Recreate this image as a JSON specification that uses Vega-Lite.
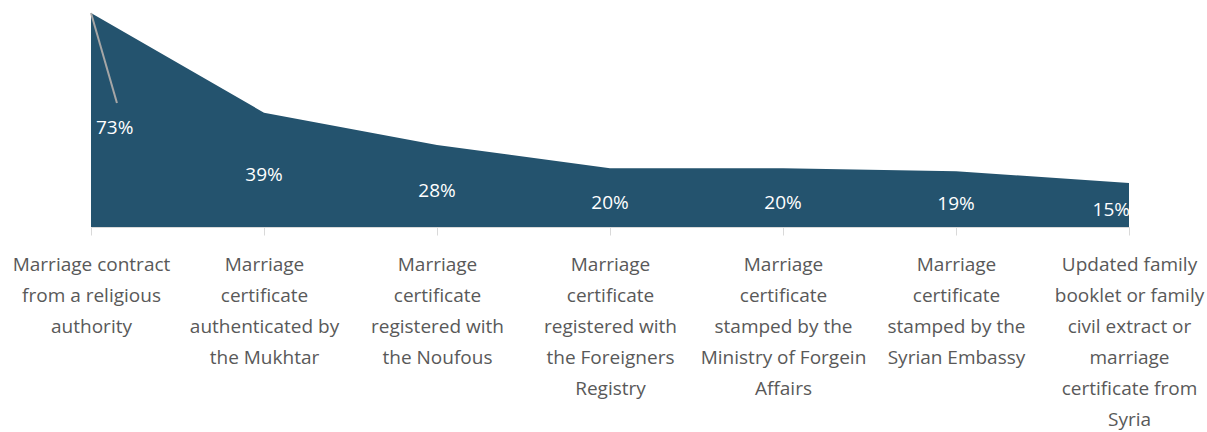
{
  "$schema": "https://vega.github.io/schema/vega-lite/v6.json",
  "width": 1038,
  "height": 214,
  "autosize": {"type": "none"},
  "padding": {"left": 91, "top": 13, "right": 78, "bottom": 205},
  "background": "white",
  "config": {"view": {"stroke": null}, "font": "Open Sans"},
  "datasets": {
    "main": [
      {"i": 0, "v": 73, "label": "Marriage contract|from a religious|authority"},
      {"i": 1, "v": 39, "label": "Marriage|certificate|authenticated by|the Mukhtar"},
      {"i": 2, "v": 28, "label": "Marriage|certificate|registered with|the Noufous"},
      {"i": 3, "v": 20, "label": "Marriage|certificate|registered with|the Foreigners|Registry"},
      {"i": 4, "v": 20, "label": "Marriage|certificate|stamped by the|Ministry of Forgein|Affairs"},
      {"i": 5, "v": 19, "label": "Marriage|certificate|stamped by the|Syrian Embassy"},
      {"i": 6, "v": 15, "label": "Updated family|booklet or family|civil extract or|marriage|certificate from|Syria"}
    ],
    "leader": [{"x": 0, "y": 73, "x2": 0.15, "y2": 42.3}]
  },
  "layer": [
    {
      "data": {"name": "main"},
      "mark": {"type": "area", "color": "#24536e", "interpolate": "linear"},
      "encoding": {
        "x": {
          "field": "i", "type": "quantitative",
          "scale": {"domain": [0, 6], "nice": false, "zero": false},
          "axis": {
            "title": null,
            "values": [0, 1, 2, 3, 4, 5, 6],
            "grid": false,
            "domainColor": "#d9d9d9",
            "tickColor": "#d9d9d9",
            "tickSize": 8,
            "labelExpr": "split(['Marriage contract|from a religious|authority','Marriage|certificate|authenticated by|the Mukhtar','Marriage|certificate|registered with|the Noufous','Marriage|certificate|registered with|the Foreigners|Registry','Marriage|certificate|stamped by the|Ministry of Forgein|Affairs','Marriage|certificate|stamped by the|Syrian Embassy','Updated family|booklet or family|civil extract or|marriage|certificate from|Syria'][datum.value], '|')",
            "labelFontSize": 19,
            "labelColor": "#595959",
            "labelLineHeight": 31,
            "labelPadding": 20,
            "labelLimit": 0,
            "labelOverlap": false,
            "labelFlush": false,
            "labelAlign": "center"
          }
        },
        "y": {
          "field": "v", "type": "quantitative",
          "scale": {"domain": [0, 73], "nice": false},
          "axis": null
        }
      }
    },
    {
      "data": {"name": "leader"},
      "mark": {"type": "rule", "color": "#a6a6a6", "strokeWidth": 2},
      "encoding": {
        "x": {"field": "x", "type": "quantitative"},
        "y": {"field": "y", "type": "quantitative"},
        "x2": {"field": "x2"},
        "y2": {"field": "y2"}
      }
    },
    {
      "data": {"name": "main"},
      "transform": [{"filter": "datum.i > 0 && datum.i < 6"}, {"calculate": "datum.v / 2", "as": "mid"}, {"calculate": "datum.v + '%'", "as": "t"}],
      "mark": {"type": "text", "color": "white", "fontSize": 19, "align": "center", "baseline": "middle", "dy": 5},
      "encoding": {
        "x": {"field": "i", "type": "quantitative"},
        "y": {"field": "mid", "type": "quantitative"},
        "text": {"field": "t"}
      }
    },
    {
      "data": {"name": "main"},
      "transform": [{"filter": "datum.i == 0"}, {"calculate": "datum.v / 2", "as": "mid"}, {"calculate": "datum.v + '%'", "as": "t"}],
      "mark": {"type": "text", "color": "white", "fontSize": 19, "align": "left", "baseline": "middle", "dx": 5, "dy": 8},
      "encoding": {
        "x": {"field": "i", "type": "quantitative"},
        "y": {"field": "mid", "type": "quantitative"},
        "text": {"field": "t"}
      }
    },
    {
      "data": {"name": "main"},
      "transform": [{"filter": "datum.i == 6"}, {"calculate": "datum.v / 2", "as": "mid"}, {"calculate": "datum.v + '%'", "as": "t"}],
      "mark": {"type": "text", "color": "white", "fontSize": 19, "align": "right", "baseline": "middle", "dx": 1, "dy": 5},
      "encoding": {
        "x": {"field": "i", "type": "quantitative"},
        "y": {"field": "mid", "type": "quantitative"},
        "text": {"field": "t"}
      }
    }
  ]
}
